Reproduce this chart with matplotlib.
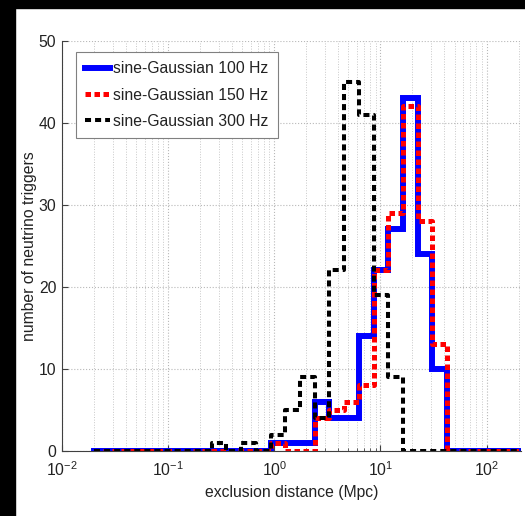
import matplotlib.pyplot as plt
import numpy as np
from matplotlib.patches import Rectangle
from matplotlib.ticker import LogLocator, NullFormatter

plt.rcParams["font.family"] = ["Liberation Sans", "DejaVu Sans"]

# log-spaced bin edges (29 bins from 0.02 to ~210 Mpc)
edges = np.logspace(np.log10(0.02), np.log10(210), 30)

sg100 = [0, 0, 0, 0, 0, 0, 0, 0, 0, 0, 0, 0, 1, 1, 1, 6, 4, 4, 14, 22,
         27, 43, 24, 10, 0, 0, 0, 0, 0]
sg150 = [0, 0, 0, 0, 0, 0, 0, 0, 0, 0, 0, 0, 1, 0, 0, 4, 5, 6, 8, 22,
         29, 42, 28, 13, 0, 0, 0, 0, 0]
sg300 = [0, 0, 0, 0, 0, 0, 0, 0, 1, 0, 1, 0, 2, 5, 9, 4, 22, 45, 41, 19,
         9, 0, 0, 0, 0, 0, 0, 0, 0]

labels = ["sine-Gaussian 100 Hz", "sine-Gaussian 150 Hz", "sine-Gaussian 300 Hz"]

fs = 11.3

fig = plt.figure(figsize=(5.25, 5.16), dpi=100)
ax = fig.add_axes([0.118, 0.126, 0.874, 0.795])

# black strips at top and left of the original screenshot
fig.patches.append(Rectangle((0, 0), 15 / 525, 1, transform=fig.transFigure,
                             color="black", zorder=-10))
fig.patches.append(Rectangle((0, 1 - 8 / 516), 1, 8 / 516, transform=fig.transFigure,
                             color="black", zorder=-10))


def stepped(vals):
    return np.append(vals, vals[-1])


ax.step(edges, stepped(sg100), where="post", color="#0000ff", lw=4.3,
        label=labels[0], solid_joinstyle="miter")
ax.step(edges, stepped(sg150), where="post", color="#ff0000", lw=3.6,
        dashes=(1.1, 0.7), label=labels[1])
ax.step(edges, stepped(sg300), where="post", color="black", lw=2.9,
        dashes=(1.5, 1.0), label=labels[2])

ax.set_xscale("log")
ax.set_xlim(0.01, 210)
ax.set_ylim(0, 50)
ax.set_yticks([0, 10, 20, 30, 40, 50])
ax.xaxis.set_major_locator(LogLocator(base=10, numticks=10))
ax.xaxis.set_minor_locator(LogLocator(base=10, subs=np.arange(2, 10), numticks=20))
ax.xaxis.set_minor_formatter(NullFormatter())

ax.grid(True, which="major", ls=":", color="#b8b8b8", lw=0.8)
ax.grid(True, which="minor", axis="x", ls=":", color="#c8c8c8", lw=0.7)
ax.set_axisbelow(True)

for s in ["top", "right"]:
    ax.spines[s].set_visible(False)
for s in ["left", "bottom"]:
    ax.spines[s].set_color("#404040")
    ax.spines[s].set_linewidth(0.8)

ax.tick_params(which="both", direction="in", colors="#404040", labelcolor="#222222",
               labelsize=fs)
ax.tick_params(which="major", length=4)
ax.tick_params(which="minor", length=2)
ax.tick_params(axis="x", pad=7)
ax.tick_params(axis="y", pad=4)

ax.set_xlabel("exclusion distance (Mpc)", fontsize=fs, color="#222222", labelpad=4)
ax.set_ylabel("number of neutrino triggers", fontsize=fs, color="#222222", labelpad=1)

leg = ax.legend(loc="upper left", bbox_to_anchor=(0.03, 0.973), fontsize=fs,
                fancybox=False, framealpha=1, edgecolor="#808080",
                handlelength=1.6, handletextpad=0.2, borderpad=0.6,
                labelspacing=0.72, borderaxespad=0)
leg.get_frame().set_linewidth(0.8)
for t in leg.get_texts():
    t.set_color("#222222")

plt.savefig("out.png", dpi=100)
